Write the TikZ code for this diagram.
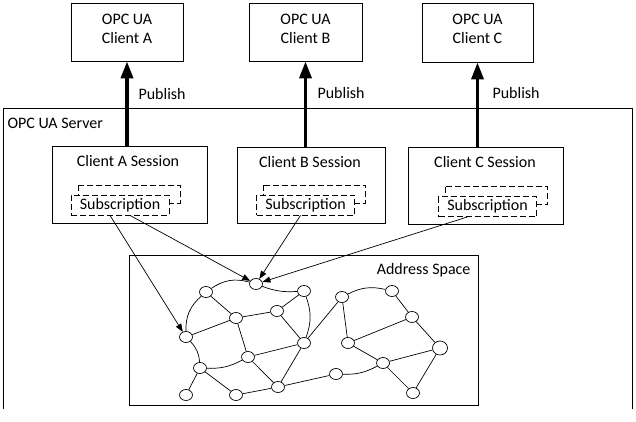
\documentclass[tikz,border=0pt]{standalone}
\usepackage{fontspec}
\setmainfont{Carlito}
\usetikzlibrary{arrows.meta,shapes.geometric}
\tikzset{
  box/.style={draw,line width=0.8pt,inner sep=0pt},
  vert/.style={draw,ellipse,line width=0.7pt,fill=white,minimum width=13pt,minimum height=11pt,inner sep=0pt},
  link/.style={line width=0.7pt},
  pub/.style={line width=3.5pt,-{Triangle[length=17pt,width=12pt]}},
  ref/.style={line width=0.7pt,-{Triangle[length=8pt,width=6pt]}},
  sub/.style={draw,dash pattern=on 6pt off 3pt,line width=0.8pt},
}
% dashed subscription box, stacked on a second one
\newcommand{\subbox}[3]{%
  \draw[sub] (#2-42,#3-20) rectangle (#2+60,#3-2);
  \node[sub,fill=white,minimum width=98pt,minimum height=20pt,inner sep=0pt] (#1) at (#2,#3) {Subscription};
}

\begin{document}
\begin{tikzpicture}[x=1pt,y=-1pt,font=\fontsize{16}{19}\selectfont]
\useasboundingbox (0,0) rectangle (636,421);

% clients
\node[box,minimum width=112pt,minimum height=58pt,align=center,text depth=7pt] (cliA) at (127,32) {OPC UA\\Client A};
\node[box,minimum width=113pt,minimum height=58pt,align=center,text depth=7pt] (cliB) at (305.5,32) {OPC UA\\Client B};
\node[box,minimum width=111pt,minimum height=59pt,align=center,text depth=7pt] (cliC) at (477.5,32.5) {OPC UA\\Client C};

% server
\coordinate (srvSW) at (3,409);
\coordinate (srvNE) at (632,108);
\draw[line width=0.8pt] (srvSW) |- (srvNE) -- (srvNE |- srvSW);
\node[anchor=west] (srv) at (4,123) {OPC UA Server};

% sessions
\node[box,minimum width=155pt,minimum height=77pt] (sesA) at (129.5,184.5) {};
\node[box,minimum width=148pt,minimum height=76pt] (sesB) at (311,185) {};
\node[box,minimum width=155pt,minimum height=77pt] (sesC) at (485.5,185.5) {};
\node (tA) at (128,161) {Client A Session};
\node (tB) at (310,162) {Client B Session};
\node (tC) at (485,162) {Client C Session};
\subbox{subA}{120}{205}
\subbox{subB}{305.5}{205}
\subbox{subC}{487.5}{206.5}

% publish
\draw[pub] (cliA.south |- sesA.north) -- (cliA.south);
\draw[pub] (cliB.south |- sesB.north) -- (cliB.south);
\draw[pub] (cliC.south |- sesC.north) -- (cliC.south);
\node[anchor=west] (pubA) at (135,94) {Publish};
\node[anchor=west] (pubB) at (314,93) {Publish};
\node[anchor=west] (pubC) at (489,93) {Publish};

% address space
\node[box,minimum width=349pt,minimum height=150pt,anchor=north west] (as) at (129,255) {};
\node[anchor=east] (asl) at (474,270) {Address Space};

\foreach \n/\x/\y in {1/256/284,2/206/292,3/304/291,4/236/318,5/277/311,6/186/337,7/304/343,
  8/248/357,9/200/368,10/278/387,11/186/395,12/236/395,13/336/374,14/342/297,15/392/291,
  16/412/317,17/348/343,19/383/363,20/413/393}
  \node[vert] (n\n) at (\x,\y) {};
\node[vert,minimum width=15pt,minimum height=14pt] (n18) at (440,348) {};

\foreach \a/\b in {2/4,4/5,5/3,4/6,5/7,4/8,7/8,9/11,9/12,12/10,8/10,7/10,10/13,7/14,
  14/17,15/16,16/17,17/19,19/18,16/18,18/20,19/20}
  \draw[link] (n\a) -- (n\b);
\draw[link] (n2) to[bend left=25] (n1);
\draw[link] (n1) to[bend right=12] (n3);
\draw[link] (n2) to[bend right=25] (n6);
\draw[link] (n3) to[bend left=20] (n7);
\draw[link] (n6) to[bend left=20] (n9);
\draw[link] (n9) to[bend right=15] (n8);
\draw[link] (n13) to[bend right=15] (n19);
\draw[link] (n14) to[bend left=20] (n15);

% subscriptions to nodes
\draw[ref] ([xshift=-10pt]subA.south) -- (n6);
\draw[ref] ([xshift=10pt]subA.south) -- (n1);
\draw[ref] ([xshift=-5pt]subB.south) -- (n1);
\draw[ref] ([xshift=-20pt]subC.south) -- (n1);
\end{tikzpicture}
\end{document}
